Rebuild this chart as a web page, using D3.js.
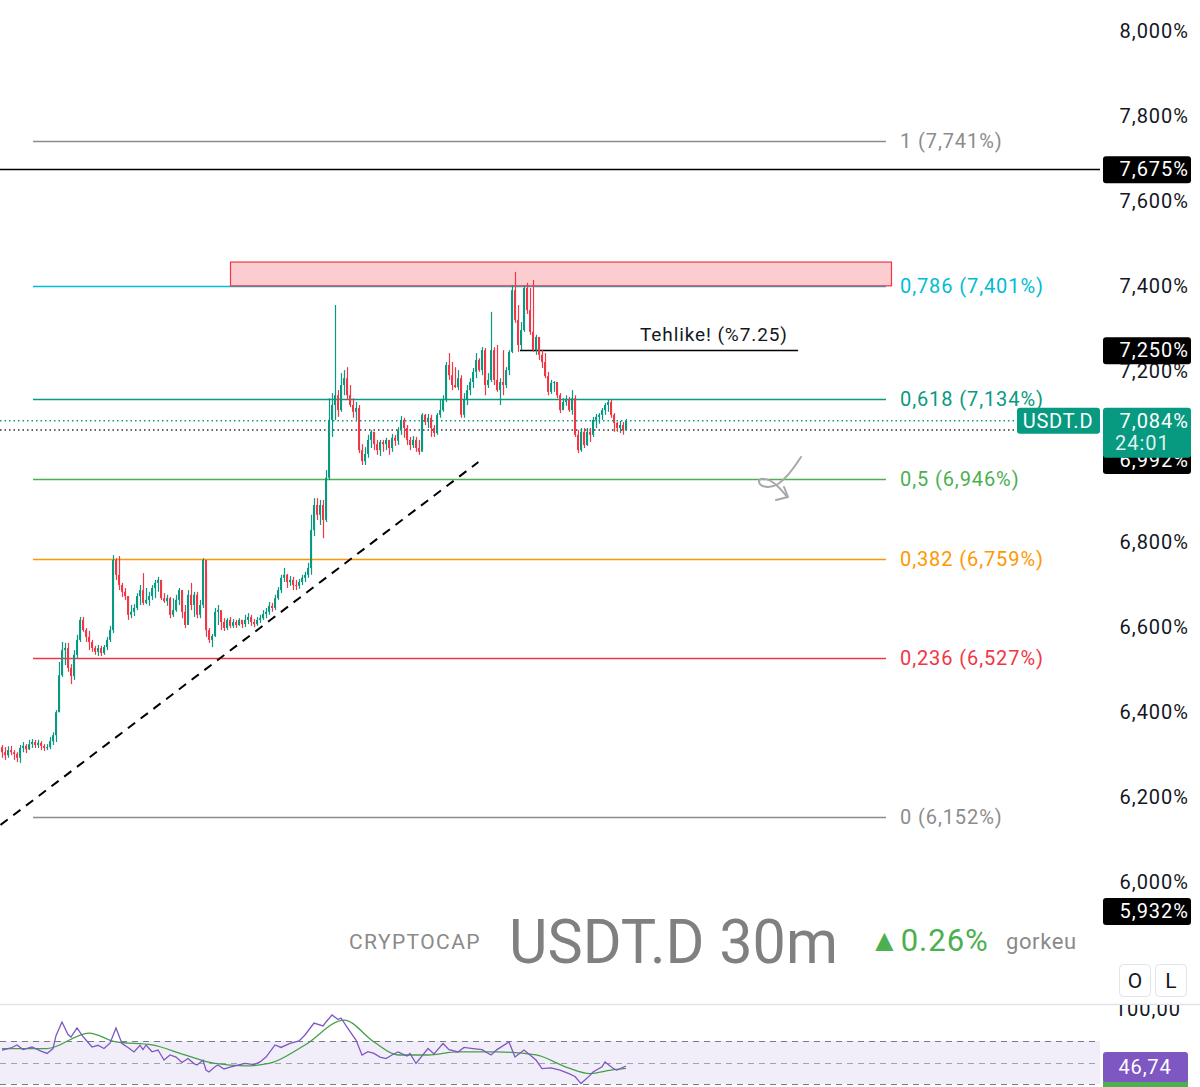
<!DOCTYPE html>
<html>
<head>
<meta charset="utf-8">
<script src="https://cdn.jsdelivr.net/npm/d3@7"></script>
<style>
  body { margin: 0; background: #fff; }
  svg { display: block; font-family: Roboto, "Liberation Sans", sans-serif; }
</style>
</head>
<body>
<div id="chart"></div>
<script>
// USDT.D 30m candles (open of each candle = previous close)
const firstOpen = 6.317;
const closes = [
  6.305,6.298,6.310,6.305,6.301,6.292,6.315,6.320,6.312,6.324,6.329,6.322,6.327,6.320,6.315,6.317,6.331,6.345,6.399,6.486,
  6.545,6.550,6.503,6.484,6.534,6.569,6.616,6.592,6.576,6.564,6.550,6.541,6.550,6.538,6.552,6.569,6.592,6.757,6.722,6.698,
  6.682,6.672,6.628,6.635,6.644,6.672,6.686,6.656,6.663,6.672,6.691,6.703,6.710,6.667,6.660,6.667,6.628,6.639,6.663,6.686,
  6.635,6.604,6.675,6.651,6.675,6.628,6.651,6.757,6.592,6.569,6.578,6.635,6.639,6.611,6.597,6.616,6.602,6.611,6.604,6.616,
  6.606,6.616,6.623,6.611,6.606,6.616,6.620,6.630,6.635,6.649,6.644,6.667,6.686,6.715,6.722,6.705,6.710,6.698,6.696,6.705,
  6.715,6.722,6.738,6.827,6.886,6.863,6.886,6.851,6.950,7.086,7.121,7.144,7.109,7.168,7.184,7.144,7.121,7.105,7.114,7.015,
  6.989,7.006,7.039,7.058,7.029,7.015,7.034,7.029,7.039,7.020,7.044,7.037,7.062,7.086,7.067,7.039,7.027,7.039,7.020,7.011,
  7.098,7.081,7.091,7.067,7.055,7.098,7.109,7.133,7.215,7.191,7.168,7.163,7.184,7.098,7.133,7.156,7.175,7.199,7.227,7.203,
  7.250,7.168,7.180,7.250,7.180,7.156,7.175,7.168,7.203,7.246,7.391,7.321,7.262,7.297,7.396,7.344,7.293,7.250,7.281,7.239,
  7.222,7.189,7.152,7.173,7.175,7.144,7.109,7.128,7.133,7.109,7.137,7.051,7.015,7.058,7.027,7.058,7.051,7.086,7.093,7.098,
  7.109,7.121,7.128,7.098,7.079,7.067,7.074,7.062,7.084
];
const highs = [
  6.322,6.317,6.319,6.320,6.310,6.305,6.322,6.329,6.324,6.334,6.336,6.334,6.334,6.331,6.324,6.324,6.341,6.352,6.404,6.517,
  6.564,6.562,6.562,6.512,6.545,6.581,6.623,6.623,6.597,6.590,6.569,6.555,6.557,6.555,6.557,6.576,6.602,6.768,6.761,6.766,
  6.703,6.691,6.672,6.651,6.653,6.679,6.698,6.726,6.691,6.682,6.698,6.710,6.717,6.710,6.679,6.675,6.670,6.667,6.675,6.691,
  6.686,6.651,6.686,6.703,6.682,6.682,6.663,6.761,6.729,6.597,6.583,6.644,6.651,6.635,6.620,6.620,6.623,6.618,6.616,6.620,
  6.616,6.628,6.632,6.628,6.618,6.623,6.628,6.639,6.644,6.658,6.656,6.675,6.693,6.722,6.738,6.724,6.719,6.717,6.710,6.712,
  6.722,6.729,6.750,6.863,6.902,6.902,6.898,6.898,6.968,7.137,7.149,7.356,7.156,7.196,7.203,7.210,7.168,7.137,7.128,7.121,
  7.029,7.022,7.051,7.062,7.058,7.039,7.039,7.039,7.044,7.039,7.053,7.051,7.069,7.095,7.091,7.074,7.046,7.048,7.046,7.039,
  7.102,7.100,7.100,7.098,7.074,7.102,7.133,7.144,7.222,7.243,7.222,7.210,7.203,7.191,7.149,7.168,7.184,7.208,7.243,7.231,
  7.257,7.255,7.196,7.340,7.257,7.262,7.184,7.250,7.210,7.250,7.403,7.434,7.356,7.316,7.403,7.408,7.396,7.415,7.286,7.279,
  7.250,7.243,7.199,7.180,7.177,7.173,7.149,7.137,7.144,7.140,7.156,7.144,7.062,7.067,7.067,7.067,7.067,7.093,7.100,7.102,
  7.114,7.126,7.133,7.133,7.102,7.081,7.084,7.081,7.088
];
const lows = [
  6.292,6.287,6.292,6.298,6.287,6.282,6.280,6.305,6.303,6.310,6.315,6.315,6.315,6.310,6.308,6.310,6.312,6.322,6.329,6.399,
  6.482,6.510,6.494,6.465,6.475,6.527,6.564,6.588,6.564,6.545,6.541,6.534,6.531,6.531,6.534,6.545,6.564,6.585,6.710,6.686,
  6.670,6.663,6.616,6.620,6.625,6.639,6.651,6.651,6.653,6.649,6.663,6.667,6.682,6.663,6.656,6.649,6.620,6.623,6.635,6.651,
  6.620,6.597,6.616,6.639,6.623,6.620,6.620,6.644,6.576,6.562,6.552,6.576,6.604,6.592,6.590,6.592,6.597,6.597,6.597,6.602,
  6.597,6.599,6.606,6.602,6.599,6.602,6.609,6.616,6.620,6.628,6.635,6.639,6.663,6.679,6.705,6.691,6.696,6.686,6.686,6.689,
  6.698,6.705,6.715,6.722,6.813,6.851,6.839,6.808,6.846,6.945,7.046,7.086,7.093,7.105,7.144,7.133,7.116,7.091,7.086,7.008,
  6.980,6.980,6.997,7.020,7.015,7.004,7.001,7.011,7.015,7.004,7.011,7.025,7.027,7.051,7.044,7.027,7.015,7.020,7.011,7.004,
  7.015,7.074,7.067,7.046,7.046,7.051,7.091,7.105,7.128,7.180,7.156,7.161,7.156,7.091,7.091,7.121,7.144,7.161,7.184,7.199,
  7.191,7.144,7.161,7.175,7.168,7.152,7.121,7.144,7.161,7.191,7.243,7.314,7.246,7.250,7.293,7.335,7.286,7.246,7.239,7.227,
  7.208,7.184,7.144,7.147,7.152,7.137,7.102,7.116,7.119,7.105,7.098,7.046,7.008,7.011,7.020,7.025,7.034,7.046,7.067,7.077,
  7.086,7.098,7.105,7.091,7.058,7.058,7.055,7.051,7.062
];

// price axis
const priceTicks = [6.0, 6.2, 6.4, 6.6, 6.8, 7.0, 7.2, 7.4, 7.6, 7.8, 8.0];

// fibonacci retracement levels
const fibRatios = ['1', '0,786', '0,618', '0,5', '0,382', '0,236', '0'];
const fibValues = [7.741, 7.401, 7.134, 6.946, 6.759, 6.527, 6.152];
const fibColors = ['#8c8c8c', '#00bcd4', '#089981', '#4caf50', '#ff9800', '#f23645', '#8c8c8c'];

// price labels on the scale
const markValues = [7.675, 7.250, 6.992, 5.932];
const lastPrice = 7.084;
const prevClose = 7.062;
const resistZone = [7.457, 7.401];
const dangerLevel = 7.25;
const trendFrom = [-0.5, 6.134];
const trendTo = [158.8, 6.987];

// RSI (14) and its moving average: [candle index, value]
const rsi = [
  [0,61.6],[3,63.5],[5,66.3],[7,62.0],[10,64.4],[13,60.5],[15,58.4],[17,63],[18,75],[20,87.7],
  [22,76],[23,73.7],[25,82.1],[27,74],[28,70.9],[30,64.4],[32,66],[34,63.0],[36,68],[38,82.1],
  [40,67.7],[42,64],[44,59.8],[46,66],[47,62],[48,66.3],[50,60],[52,61.6],[54,52.3],[56,57],
  [58,55.1],[60,50],[62,53.7],[64,49],[65,47.7],[67,52],[68,43],[69,41.2],[71,46],[72,47.7],
  [74,44],[76,45.8],[78,47],[81,49.1],[84,48],[86,50.5],[88,55],[91,66.3],[93,64],[96,67.7],
  [99,70],[101,75.6],[104,86.7],[107,84],[108,87.7],[110,94.2],[112,90],[113,91.4],[115,83.0],[118,70.9],
  [120,57.0],[122,60],[124,58.4],[126,55],[128,53.7],[130,57],[132,59.8],[135,56],[136,58.4],[138,49.1],
  [142,63.0],[144,58],[147,67.7],[149,62],[152,59.8],[154,64],[157,63.0],[160,62],[163,57.0],[165,62],
  [169,69.1],[171,55.1],[174,61.6],[178,52.3],[180,44.3],[183,45],[186,43.0],[189,39.7],[191,37],[193,30.4],
  [196,38],[197,41.2],[200,46],[201,50.5],[204,44],[205,43.0],[208,46.74]
];
const rsiMa = [
  [0,63.0],[15,63.0],[29,77.4],[38,69.1],[50,66.3],[61,57.0],[71,49.1],[81,46.8],[89,49.1],[101,66.3],
  [114,89.5],[124,69.1],[132,57.0],[142,57.0],[152,59.8],[165,59.8],[178,57.0],[188,45.8],[196,39.7],[203,43.0],
  [208,44.6]
];
const rsiLevels = [70, 50, 30];

const up = '#089981';
const down = '#f23645';
const fmt = v => d3.format('.3f')(v).replace('.', ',') + '%';

const width = 1200;
const height = 1087;
const svg = d3.select('#chart').append('svg')
  .attr('width', width)
  .attr('height', height);

const scaleY = d3.scaleLinear().domain([6.0, 8.0]).range([882, 31]);
const scaleX = d3.scaleLinear().domain([0, closes.length - 1]).range([2, 626]);

// price axis on the right
const axisY = d3.axisRight(scaleY)
  .tickValues(priceTicks)
  .tickSize(0)
  .tickFormat(d => d3.format('.3f')(d).replace('.', ',') + '%');

svg.append('g')
  .attr('transform', 'translate(1100, 0)')
  .call(axisY)
  .call(g => g.select('.domain').remove())
  .call(g => g.selectAll('text')
    .attr('x', 89)
    .attr('text-anchor', 'end')
    .attr('fill', '#131722')
    .attr('font-size', 20)
    .attr('letter-spacing', 1)
    .attr('font-family', 'Roboto, sans-serif'));

// fib levels
const fib = svg.append('g');
fib.selectAll('line')
  .data(fibValues)
  .join('line')
  .attr('x1', 33).attr('x2', 886)
  .attr('y1', d => Math.round(scaleY(d)) + 0.5)
  .attr('y2', d => Math.round(scaleY(d)) + 0.5)
  .attr('stroke', (d, i) => fibColors[i])
  .attr('stroke-width', 1.3);

fib.selectAll('text')
  .data(fibValues)
  .join('text')
  .attr('x', 900)
  .attr('y', d => scaleY(d))
  .attr('dy', '0.35em')
  .attr('fill', (d, i) => fibColors[i])
  .attr('font-size', 20)
  .attr('letter-spacing', 0.9)
  .text((d, i) => `${fibRatios[i]} (${fmt(d)})`);

// resistance zone
svg.append('rect')
  .attr('x', 230.5)
  .attr('y', scaleY(resistZone[0]))
  .attr('width', 661)
  .attr('height', scaleY(resistZone[1]) - scaleY(resistZone[0]))
  .attr('fill', 'rgba(242,54,69,0.25)')
  .attr('stroke', '#f23645')
  .attr('stroke-width', 1.2);

// horizontal level across the chart
svg.append('line')
  .attr('x1', 0).attr('x2', 1100)
  .attr('y1', Math.round(scaleY(markValues[0])) + 0.5)
  .attr('y2', Math.round(scaleY(markValues[0])) + 0.5)
  .attr('stroke', '#000')
  .attr('stroke-width', 1.5);

// last price / previous close dotted lines
svg.append('line')
  .attr('x1', 0).attr('x2', 1017)
  .attr('y1', scaleY(lastPrice)).attr('y2', scaleY(lastPrice))
  .attr('stroke', up).attr('stroke-width', 1.5)
  .attr('stroke-dasharray', '1.5,3');
svg.append('line')
  .attr('x1', 0).attr('x2', 1017)
  .attr('y1', scaleY(prevClose)).attr('y2', scaleY(prevClose))
  .attr('stroke', '#333').attr('stroke-width', 1.5)
  .attr('stroke-dasharray', '1.5,3');

// trend line
svg.append('line')
  .attr('x1', scaleX(trendFrom[0])).attr('y1', scaleY(trendFrom[1]))
  .attr('x2', scaleX(trendTo[0])).attr('y2', scaleY(trendTo[1]))
  .attr('stroke', '#000')
  .attr('stroke-width', 2)
  .attr('stroke-dasharray', '9,7');

// danger level
svg.append('line')
  .attr('x1', 520).attr('x2', 798)
  .attr('y1', Math.round(scaleY(dangerLevel)) + 0.5)
  .attr('y2', Math.round(scaleY(dangerLevel)) + 0.5)
  .attr('stroke', '#000').attr('stroke-width', 1.5);
svg.append('text')
  .attr('x', 640).attr('y', scaleY(dangerLevel) - 9)
  .attr('fill', '#131722')
  .attr('font-size', 19)
  .attr('letter-spacing', 0.9)
  .text('Tehlike! (%7.25)');

// candles
const candles = closes.map((c, i) => ({
  i: i,
  o: i === 0 ? firstOpen : closes[i - 1],
  c: c,
  h: highs[i],
  l: lows[i],
}));

const cg = svg.append('g');
cg.selectAll('line')
  .data(candles)
  .join('line')
  .attr('x1', d => scaleX(d.i) + 0.5)
  .attr('x2', d => scaleX(d.i) + 0.5)
  .attr('y1', d => scaleY(d.h))
  .attr('y2', d => scaleY(d.l))
  .attr('stroke', d => d.c >= d.o ? up : down)
  .attr('stroke-width', 1.2);

cg.selectAll('rect')
  .data(candles)
  .join('rect')
  .attr('x', d => scaleX(d.i) - 1)
  .attr('width', 2)
  .attr('y', d => scaleY(Math.max(d.o, d.c)))
  .attr('height', d => Math.max(1, Math.abs(scaleY(d.o) - scaleY(d.c))))
  .attr('fill', d => d.c >= d.o ? up : down);

// hand-drawn arrow
svg.append('path')
  .attr('d', 'M801,457 C794,468 787,478 778,484 C770,489 760,487 759,482 C758,477 768,478 775,484 C780,488 784,493 787,497 M776,500 L788,497 L784,487')
  .attr('fill', 'none')
  .attr('stroke', '#a8a8a8')
  .attr('stroke-width', 2)
  .attr('stroke-linecap', 'round')
  .attr('stroke-linejoin', 'round');

// price boxes on the right scale
const bg = svg.append('g');
bg.selectAll('rect')
  .data(markValues)
  .join('rect')
  .attr('x', 1103).attr('width', 88)
  .attr('y', d => scaleY(d) - 13).attr('height', 27)
  .attr('rx', 3)
  .attr('fill', '#000');
bg.selectAll('text')
  .data(markValues)
  .join('text')
  .attr('x', 1189)
  .attr('y', d => scaleY(d))
  .attr('dy', '0.35em')
  .attr('text-anchor', 'end')
  .attr('fill', '#fff')
  .attr('font-size', 20)
  .attr('letter-spacing', 1)
  .text(d => fmt(d));

// last price box
const yl = scaleY(lastPrice);
svg.append('rect')
  .attr('x', 1103).attr('y', yl - 13).attr('width', 88).attr('height', 50)
  .attr('rx', 3).attr('fill', up);
svg.append('text')
  .attr('x', 1189).attr('y', yl).attr('dy', '0.35em')
  .attr('text-anchor', 'end').attr('fill', '#fff').attr('font-size', 20)
  .attr('letter-spacing', 1)
  .text(fmt(lastPrice));
svg.append('text')
  .attr('x', 1115).attr('y', yl + 22).attr('dy', '0.35em')
  .attr('fill', '#dff2ee').attr('font-size', 20)
  .attr('letter-spacing', 1)
  .text('24:01');
svg.append('rect')
  .attr('x', 1017).attr('y', yl - 13).attr('width', 83).attr('height', 26)
  .attr('rx', 3).attr('fill', up);
svg.append('text')
  .attr('x', 1058).attr('y', yl).attr('dy', '0.35em')
  .attr('text-anchor', 'middle').attr('fill', '#fff').attr('font-size', 20)
  .attr('letter-spacing', 0.8)
  .text('USDT.D');

// title watermark
const title = svg.append('g');
title.append('text')
  .attr('x', 349).attr('y', 949)
  .attr('fill', '#8a8a8a').attr('font-size', 21)
  .attr('letter-spacing', 1.4)
  .text('CRYPTOCAP');
title.append('text')
  .attr('x', 509).attr('y', 963)
  .attr('fill', '#808080').attr('font-size', 62)
  .attr('textLength', 329)
  .attr('lengthAdjust', 'spacingAndGlyphs')
  .text('USDT.D 30m');
title.append('text')
  .attr('x', 869).attr('y', 951)
  .attr('fill', '#4caf50').attr('font-size', 31)
  .attr('letter-spacing', 1)
  .text('▲0.26%');
title.append('text')
  .attr('x', 1006).attr('y', 949)
  .attr('fill', '#8a8a8a').attr('font-size', 22)
  .attr('letter-spacing', 0.6)
  .text('gorkeu');

// O / L buttons
['O', 'L'].forEach((t, i) => {
  svg.append('rect')
    .attr('x', 1119.5 + i * 36).attr('y', 964.5)
    .attr('width', 31).attr('height', 32).attr('rx', 4)
    .attr('fill', '#fff').attr('stroke', '#e0e3eb');
  svg.append('text')
    .attr('x', 1135 + i * 36).attr('y', 981).attr('dy', '0.35em')
    .attr('text-anchor', 'middle').attr('fill', '#131722').attr('font-size', 21)
    .text(t);
});

// RSI pane
svg.append('line')
  .attr('x1', 0).attr('x2', width)
  .attr('y1', 1004.5).attr('y2', 1004.5)
  .attr('stroke', '#e0e3eb').attr('stroke-width', 1.5);

svg.append('clipPath').attr('id', 'rsiClip')
  .append('rect').attr('x', 0).attr('y', 1005).attr('width', width).attr('height', 90);

const pane = svg.append('g').attr('clip-path', 'url(#rsiClip)');
const scaleR = d3.scaleLinear().domain([30, 70]).range([1084, 1041]);

pane.append('rect')
  .attr('x', 0).attr('width', 1100)
  .attr('y', scaleR(70)).attr('height', scaleR(30) - scaleR(70))
  .attr('fill', 'rgba(126,87,194,0.1)');

pane.selectAll('.lvl')
  .data(rsiLevels)
  .join('line')
  .attr('class', 'lvl')
  .attr('x1', 0).attr('x2', 1100)
  .attr('y1', d => Math.round(scaleR(d)) + 0.5)
  .attr('y2', d => Math.round(scaleR(d)) + 0.5)
  .attr('stroke', d => d === 50 ? '#a0a3ab' : '#787b86')
  .attr('stroke-width', 1.2)
  .attr('stroke-dasharray', '6,5');

const rsiLine = d3.line()
  .x(d => scaleX(d[0]))
  .y(d => scaleR(d[1]));

pane.append('path')
  .attr('d', rsiLine.curve(d3.curveMonotoneX)(rsiMa))
  .attr('fill', 'none')
  .attr('stroke', '#43a047')
  .attr('stroke-width', 1.3);

pane.append('path')
  .attr('d', rsiLine.curve(d3.curveLinear)(rsi))
  .attr('fill', 'none')
  .attr('stroke', '#7e57c2')
  .attr('stroke-width', 1.3);

pane.append('text')
  .attr('x', 1181).attr('y', scaleR(100)).attr('dy', '0.35em')
  .attr('text-anchor', 'end').attr('fill', '#131722').attr('font-size', 20)
  .attr('letter-spacing', 1)
  .text('100,00');

const lastRsi = rsi[rsi.length - 1][1];
const lastMa = rsiMa[rsiMa.length - 1][1];
pane.append('rect')
  .attr('x', 1103).attr('y', scaleR(lastMa) - 1).attr('width', 85).attr('height', 28)
  .attr('rx', 3).attr('fill', '#4caf50');
pane.append('rect')
  .attr('x', 1103).attr('y', scaleR(lastRsi) - 14).attr('width', 85).attr('height', 30)
  .attr('rx', 3).attr('fill', '#7e57c2');
pane.append('text')
  .attr('x', 1145).attr('y', scaleR(lastRsi) + 1).attr('dy', '0.35em')
  .attr('text-anchor', 'middle').attr('fill', '#fff').attr('font-size', 20)
  .attr('letter-spacing', 0.8)
  .text(d3.format('.2f')(lastRsi).replace('.', ','));
</script>
</body>
</html>
